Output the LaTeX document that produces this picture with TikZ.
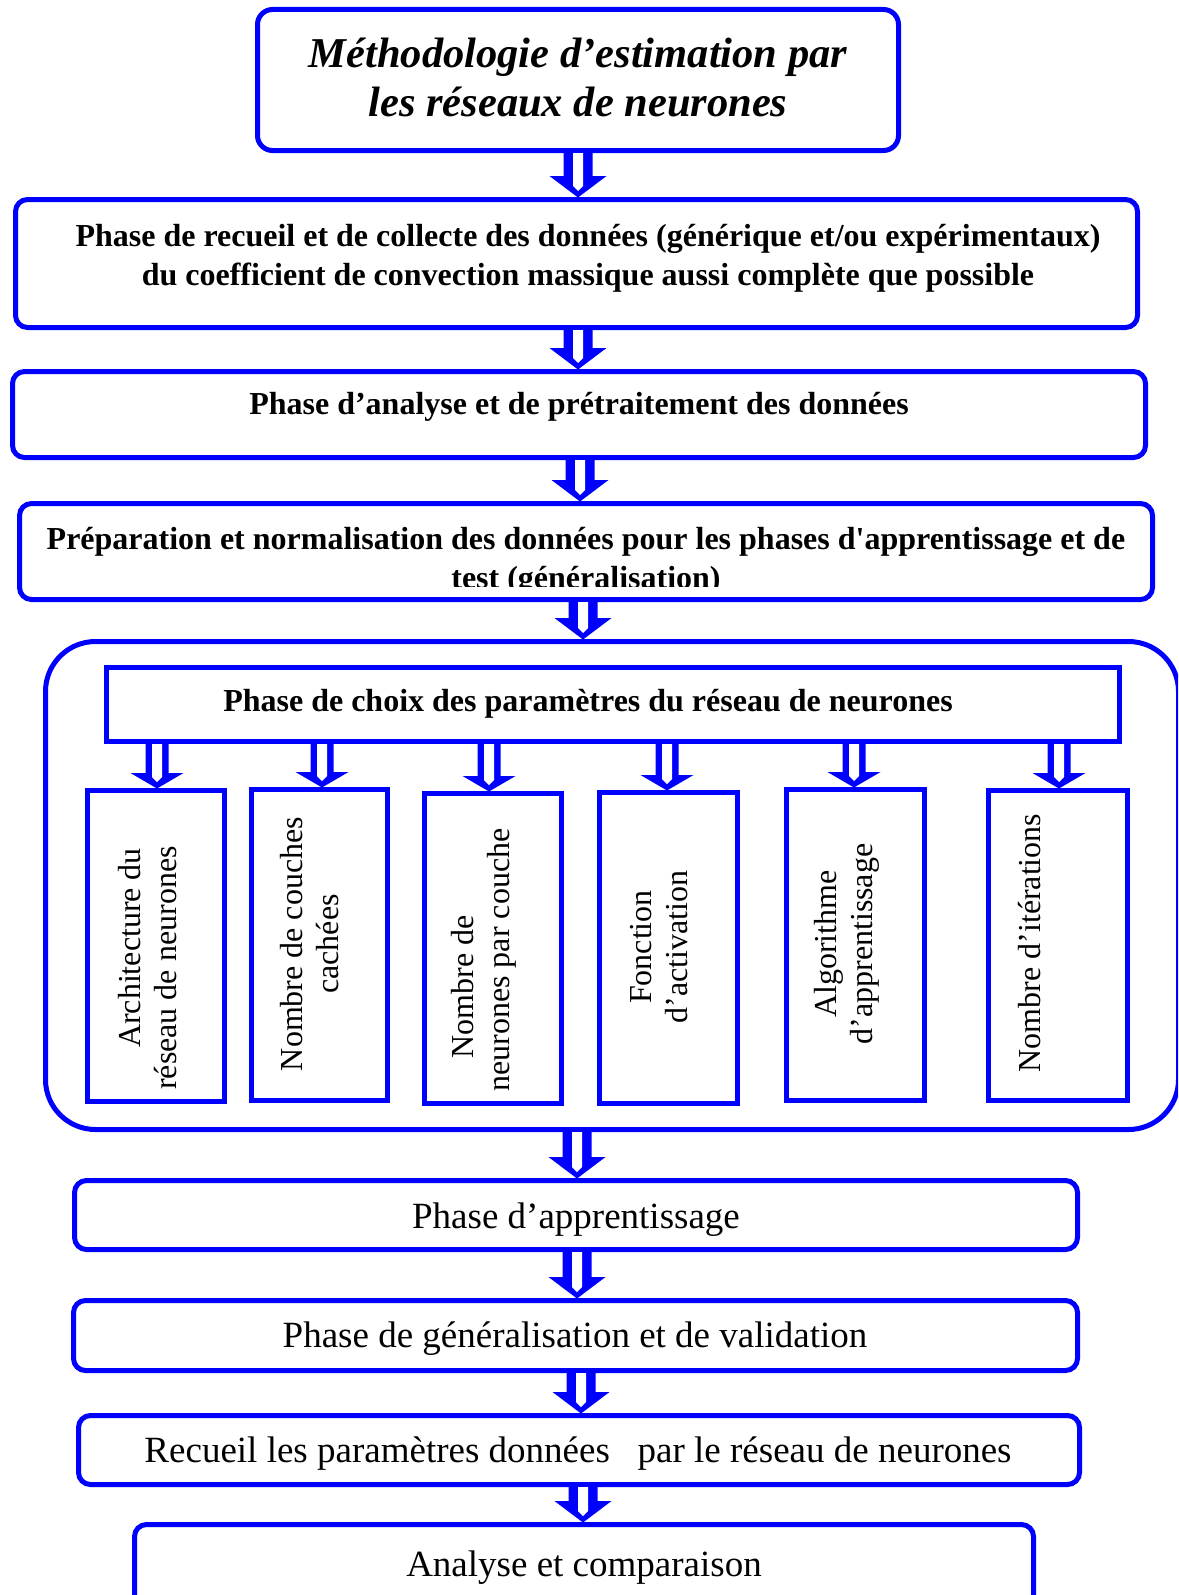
\documentclass[tikz,border=0pt]{standalone}
\usepackage{fontspec}
\setmainfont{Liberation Serif}[Ligatures=TeXOff]
\usetikzlibrary{calc}
\definecolor{flowblue}{RGB}{0,0,255}

\tikzset{
  box/.style={draw=flowblue, line width=5pt, rounded corners=12pt, inner sep=0pt},
  sharpbox/.style={draw=flowblue, line width=5pt, inner sep=0pt},
  titletxt/.style={font=\fontsize{42.5}{49}\selectfont\bfseries\itshape, align=center, inner sep=0pt},
  boldtxt/.style={font=\fontsize{32}{39}\selectfont\bfseries, align=center, inner sep=0pt},
  plaintxt/.style={font=\fontsize{37}{44}\selectfont, align=center, inner sep=0pt},
  vtxt/.style={font=\fontsize{32}{36}\selectfont, align=center, rotate=90, inner sep=0pt},
}

% hollow block arrow between two named nodes
% #1 axis x, #2 source node, #3 target node, #4 shaft half-width,
% #5 head half-width, #6 head height, #7 half-width of the white core
\newcommand\flowarrow[7]{%
  \fill[flowblue] let \p1=(#2.south), \p2=(#3.north) in
    (#1pt-#4pt,\y1) -- (#1pt-#4pt,\y2+#6pt) -- (#1pt-#5pt,\y2+#6pt) -- (#1pt,\y2-0.5pt)
    -- (#1pt+#5pt,\y2+#6pt) -- (#1pt+#4pt,\y2+#6pt) -- (#1pt+#4pt,\y1) -- cycle;
  \fill[white] let \p1=(#2.south), \p2=(#3.north) in
    (#1pt-#7pt,\y1) -- (#1pt-#7pt,\y2+11pt) -- (#1pt,\y2+6pt)
    -- (#1pt+#7pt,\y2+11pt) -- (#1pt+#7pt,\y1) -- cycle;
}
\newcommand\mainarrow[3]{\flowarrow{#1}{#2}{#3}{14.5}{28.5}{21}{5}}
\newcommand\subarrow[3]{\flowarrow{#1}{#2}{#3}{11.5}{26.5}{15}{5}}

\begin{document}
\begin{tikzpicture}[x=1pt,y=-1pt]
\useasboundingbox (0,0) rectangle (1178,1595);
\clip (0,0) rectangle (1178,1595);
\fill[white] (0,0) rectangle (1178,1595);

% main column of phases
\node[box, rounded corners=15pt, minimum width=641pt, minimum height=141pt] (title) at (578,80) {};
\node[box, minimum width=1122pt, minimum height=128pt] (collect) at (576.5,263.5) {};
\node[box, minimum width=1133pt, minimum height=86pt] (analysis) at (579,414.5) {};
\node[box, minimum width=1133pt, minimum height=96pt] (prep) at (586,551.5) {};

% network parameter group
\node[box, rounded corners=50pt, minimum width=1133pt, minimum height=488pt] (group) at (612,885.5) {};
\node[sharpbox, minimum width=1013pt, minimum height=74pt] (params) at (613,704.5) {};
\node[sharpbox, minimum width=137pt, minimum height=311pt] (p1) at (156,946) {};
\node[sharpbox, minimum width=136pt, minimum height=311pt] (p2) at (319.5,945) {};
\node[sharpbox, minimum width=137pt, minimum height=310pt] (p3) at (493,948.5) {};
\node[sharpbox, minimum width=138pt, minimum height=311pt] (p4) at (668.5,948) {};
\node[sharpbox, minimum width=138pt, minimum height=311pt] (p5) at (855.5,945) {};
\node[sharpbox, minimum width=139pt, minimum height=310pt] (p6) at (1058,945.5) {};

% training and evaluation
\node[box, minimum width=1003pt, minimum height=69pt] (learn) at (576,1215) {};
\node[box, minimum width=1004pt, minimum height=70pt] (valid) at (575.5,1335.5) {};
\node[box, minimum width=1001pt, minimum height=69pt] (gather) at (579,1450) {};
\node[box, minimum width=899pt, minimum height=88pt] (compare) at (584,1568.5) {};

% labels
\node[titletxt] (ttitle) at (578,77) {Méthodologie d’estimation par\\les réseaux de neurones};
\node[boldtxt] (tcollect) at (588,258.5) {Phase de recueil et de collecte des données (générique et/ou expérimentaux)\\du coefficient de convection massique aussi complète que possible};
\node[boldtxt] (tanalysis) at (579,407) {Phase d’analyse et de prétraitement des données};
\begin{scope}
  \clip (17,500) rectangle (1155,586);
  \node[boldtxt] (tprep) at (586,561) {Préparation et normalisation des données pour les phases d'apprentissage et de\\test (généralisation)};
\end{scope}
\node[boldtxt] (tparams) at (588,704) {Phase de choix des paramètres du réseau de neurones};

\node[vtxt] (tp1) at (148,948) {Architecture du\\réseau de neurones\hspace*{40pt}};
\node[vtxt] (tp2) at (309.5,944) {Nombre de couches\\cachées};
\node[vtxt] (tp3) at (483.5,960) {Nombre de\hspace*{54pt}\\neurones par couche};
\node[vtxt] (tp4) at (659,947) {Fonction\\d’activation};
\node[vtxt] (tp5) at (847,944) {Algorithme\\d’apprentissage};
\node[vtxt] (tp6) at (1030,943) {Nombre d’itérations};

\node[plaintxt] (tlearn) at (576,1220) {Phase d’apprentissage};
\node[plaintxt] (tvalid) at (575,1339) {Phase de généralisation et de validation};
\node[plaintxt] (tgather) at (578,1454) {Recueil les paramètres données~~~par le réseau de neurones};
\node[plaintxt] (tcompare) at (584,1568) {Analyse et comparaison};

% connectors
\mainarrow{578}{title}{collect}
\mainarrow{578}{collect}{analysis}
\mainarrow{580}{analysis}{prep}
\mainarrow{583}{prep}{group}
\mainarrow{577}{group}{learn}
\mainarrow{577}{learn}{valid}
\mainarrow{581}{valid}{gather}
\mainarrow{583}{gather}{compare}

\subarrow{157}{params}{p1}
\subarrow{322}{params}{p2}
\subarrow{489}{params}{p3}
\subarrow{667}{params}{p4}
\subarrow{854}{params}{p5}
\subarrow{1059}{params}{p6}
\end{tikzpicture}
\end{document}
